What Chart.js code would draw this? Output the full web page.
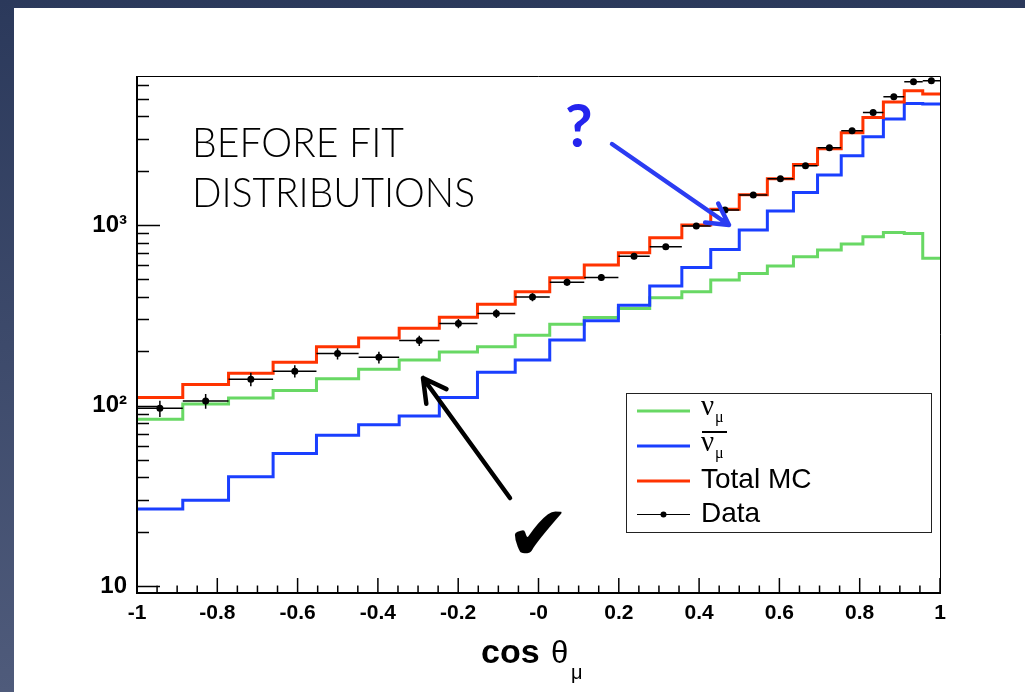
<!DOCTYPE html>
<html>
<head>
<meta charset="utf-8">
<script src="https://cdn.jsdelivr.net/npm/chart.js@4.4.1/dist/chart.umd.min.js"></script>
<style>
html, body { margin: 0; padding: 0; width: 1025px; height: 692px; overflow: hidden; background: linear-gradient(#2b395b, #4f5b7b); }
#panel { position: absolute; left: 14px; top: 8px; right: 0; bottom: 0; background: #fff; }
#wrap { position: absolute; left: 0; top: 0; width: 1025px; height: 692px; }
</style>
</head>
<body>
<div id="panel"></div>
<div id="wrap"><canvas id="c" width="1025" height="692"></canvas></div>
<script>
// bin edges in cos theta (bins get narrower towards cos = 1)
const binEdges = [-1, -0.886, -0.772, -0.661, -0.553, -0.448, -0.347, -0.247, -0.152, -0.058,
  0.028, 0.114, 0.199, 0.277, 0.357, 0.429, 0.5, 0.57, 0.635, 0.695, 0.754, 0.808, 0.859, 0.911, 0.957, 1];

const numu = [84, 102, 110, 121, 141, 159, 179, 198, 212, 245, 282, 308, 345, 396, 427,
  496, 540, 593, 667, 727, 785, 861, 911, 899, 654];
const numubar = [26.7, 29.9, 40.3, 54.3, 68.4, 78.3, 87.5, 111, 153, 179, 231, 295, 360, 459, 583,
  733, 938, 1196, 1517, 1892, 2421, 3084, 3866, 4722, 4680];
const totalMC = [111, 131, 151, 174, 212, 237, 268, 309, 364, 427, 511, 600, 703, 851, 1000,
  1222, 1472, 1806, 2168, 2648, 3244, 3952, 4801, 5547, 5317];
const dataVals = [96.5, 106, 140, 155, 194, 185, 229, 285, 324, 399, 483, 513, 673, 758, 987,
  1211, 1466, 1806, 2131, 2681, 3333, 4209, 5140, 6223, 6299];
const dataErr = [10, 10, 12, 12, 14, 14, 15, 17, 18, 20, 22, 23, 26, 28, 31,
  35, 38, 42, 46, 52, 58, 65, 72, 79, 79];

const xTicks = { min: -1, max: 1, step: 0.2 };
const yTickValues = [10, 100, 1000];
const yTickLabels = ['10', '10\u00B2', '10\u00B3'];

const GREEN = '#68d864';
const BLUE = '#1a3fff';
const RED = '#ff3300';

// histogram outline: one point per left edge, plus the closing right edge
function steps(vals) {
  return binEdges.map((e, i) => ({ x: e, y: vals[Math.min(i, vals.length - 1)] }));
}
const dataPts = dataVals.map((v, i) => ({ x: (binEdges[i] + binEdges[i + 1]) / 2, y: v }));

function arrow(ctx, x1, y1, x2, y2, color, w, head) {
  const a = Math.atan2(y2 - y1, x2 - x1);
  ctx.save();
  ctx.strokeStyle = color;
  ctx.lineWidth = w;
  ctx.lineCap = 'round';
  ctx.lineJoin = 'round';
  ctx.beginPath();
  ctx.moveTo(x1, y1);
  ctx.lineTo(x2, y2);
  ctx.moveTo(x2 - head * Math.cos(a - 0.5), y2 - head * Math.sin(a - 0.5));
  ctx.lineTo(x2, y2);
  ctx.lineTo(x2 - head * Math.cos(a + 0.5), y2 - head * Math.sin(a + 0.5));
  ctx.stroke();
  ctx.restore();
}

const errorBars = {
  id: 'errorBars',
  afterDatasetsDraw(chart) {
    const { ctx, scales: { x, y } } = chart;
    ctx.save();
    ctx.strokeStyle = '#000';
    ctx.lineWidth = 1.5;
    dataVals.forEach((v, i) => {
      const py = y.getPixelForValue(v);
      const px = x.getPixelForValue(dataPts[i].x);
      ctx.beginPath();
      ctx.moveTo(x.getPixelForValue(binEdges[i]), py);
      ctx.lineTo(x.getPixelForValue(binEdges[i + 1]), py);
      ctx.moveTo(px, y.getPixelForValue(v - dataErr[i]));
      ctx.lineTo(px, y.getPixelForValue(v + dataErr[i]));
      ctx.stroke();
    });
    ctx.restore();
  }
};

// ROOT style frame with inward ticks
const frame = {
  id: 'frame',
  afterDraw(chart) {
    const { ctx, chartArea: a, scales: { x, y } } = chart;
    ctx.save();
    ctx.strokeStyle = '#000';
    ctx.lineWidth = 1;
    ctx.beginPath();
    ctx.moveTo(a.left, a.top + 0.5);
    ctx.lineTo(a.right + 0.5, a.top + 0.5);
    ctx.lineTo(a.right + 0.5, a.bottom);
    ctx.stroke();
    ctx.lineWidth = 2;
    ctx.beginPath();
    ctx.moveTo(a.left, a.top);
    ctx.lineTo(a.left, a.bottom);
    ctx.lineTo(a.right + 1, a.bottom);
    ctx.stroke();
    ctx.lineWidth = 1.5;
    ctx.beginPath();
    for (let k = 0; k <= 40; k++) {
      const px = x.getPixelForValue(-1 + k * 0.05);
      const len = k % 4 === 0 ? 15 : 7.5;
      ctx.moveTo(px, a.bottom);
      ctx.lineTo(px, a.bottom - len);
    }
    for (let d = 1; d <= 1000; d *= 10) {
      for (let m = 1; m <= 9; m++) {
        const v = m * d;
        if (v < y.min || v > y.max) continue;
        const py = Math.round(y.getPixelForValue(v)) + 0.5;
        ctx.moveTo(a.left, py);
        ctx.lineTo(a.left + (m === 1 ? 23 : 12), py);
      }
    }
    ctx.stroke();

    // axis title
    ctx.fillStyle = '#000';
    ctx.textBaseline = 'alphabetic';
    ctx.font = 'bold 34px "Liberation Sans"';
    ctx.fillText('cos', 481, 663);
    ctx.font = '31px "Liberation Sans"';
    ctx.fillText('\u03B8', 551, 663);
    ctx.font = '20px "Liberation Sans"';
    ctx.fillText('\u03BC', 571, 679);
    ctx.restore();
  }
};

const legendBox = {
  id: 'legendBox',
  afterDraw(chart) {
    const ctx = chart.ctx;
    ctx.save();
    ctx.fillStyle = '#fff';
    ctx.fillRect(626, 393, 305, 139);
    ctx.strokeStyle = '#222';
    ctx.lineWidth = 1;
    ctx.strokeRect(626.5, 393.5, 305, 139);
    const line = (yy, col, w) => {
      ctx.strokeStyle = col; ctx.lineWidth = w;
      ctx.beginPath(); ctx.moveTo(637, yy); ctx.lineTo(690, yy); ctx.stroke();
    };
    line(411, GREEN, 3);
    line(446, BLUE, 3);
    line(481, RED, 3);
    line(514.5, '#000', 1);
    ctx.fillStyle = '#000';
    ctx.beginPath(); ctx.arc(663.5, 514.5, 3, 0, Math.PI * 2); ctx.fill();
    ctx.font = '29px "Liberation Serif"';
    ctx.fillText('\u03BD', 701, 415);
    ctx.fillText('\u03BD', 701, 451);
    ctx.font = '16px "Liberation Serif"';
    ctx.fillText('\u03BC', 715, 422);
    ctx.fillText('\u03BC', 715, 458);
    ctx.fillRect(702, 431, 25, 2);
    ctx.font = '28px "Liberation Sans"';
    ctx.fillText('Total MC', 701, 488);
    ctx.fillText('Data', 701, 522);
    ctx.restore();
  }
};

const notes = {
  id: 'notes',
  afterDraw(chart) {
    const ctx = chart.ctx;
    ctx.save();
    ctx.fillStyle = '#000';
    ctx.font = '300 42px Lato';
    ctx.fillText('BEFORE FIT', 192, 157, 212);
    ctx.fillText('DISTRIBUTIONS', 192, 207, 283);
    ctx.fillStyle = '#2424ee';
    ctx.font = 'bold 60px Lato';
    ctx.fillText('?', 565, 147);
    arrow(ctx, 612, 144, 729, 225, '#2b3cf2', 4.5, 24);
    arrow(ctx, 510, 498, 423, 378, '#000', 4.5, 26);
    ctx.fillStyle = '#000';
    ctx.font = '77px "DejaVu Sans"';
    ctx.fillText('\u2714', 506, 560);
    ctx.restore();
  }
};

new Chart(document.getElementById('c'), {
  type: 'line',
  data: {
    datasets: [
      { label: 'Data', data: dataPts, showLine: false, pointRadius: 3.5, pointBackgroundColor: '#000',
        pointBorderWidth: 0, order: 0 },
      { label: 'Total MC', data: steps(totalMC), borderColor: RED, borderWidth: 3, pointRadius: 0,
        stepped: 'before', fill: false, order: 1 },
      { label: 'numubar', data: steps(numubar), borderColor: BLUE, borderWidth: 3, pointRadius: 0,
        stepped: 'before', fill: false, order: 2 },
      { label: 'numu', data: steps(numu), borderColor: GREEN, borderWidth: 3, pointRadius: 0,
        stepped: 'before', fill: false, order: 3 }
    ]
  },
  options: {
    responsive: false,
    animation: false,
    layout: { padding: { left: 0, top: 76, right: 85, bottom: 0 } },
    plugins: { legend: { display: false }, tooltip: { enabled: false } },
    scales: {
      x: {
        type: 'linear', min: xTicks.min, max: xTicks.max,
        grid: { display: false, drawTicks: false }, border: { display: false },
        ticks: {
          stepSize: xTicks.step, autoSkip: false, maxRotation: 0, padding: 8, color: '#000',
          font: { family: 'Liberation Sans', weight: 'bold', size: 21 },
          callback: v => Math.abs(v) < 1e-9 ? '-0' : String(Math.round(v * 10) / 10)
        },
        afterFit: s => { s.height = 99; }
      },
      y: {
        type: 'logarithmic', min: 9.15, max: 6700,
        grid: { display: false, drawTicks: false }, border: { display: false },
        afterBuildTicks: s => { s.ticks = yTickValues.map(v => ({ value: v })); },
        ticks: {
          padding: 10, color: '#000',
          font: { family: 'Liberation Sans', weight: 'bold', size: 24 },
          callback: v => yTickLabels[yTickValues.indexOf(v)] ?? ''
        },
        afterFit: s => { s.width = 137; }
      }
    }
  },
  plugins: [errorBars, frame, legendBox, notes]
});
</script>
</body>
</html>
